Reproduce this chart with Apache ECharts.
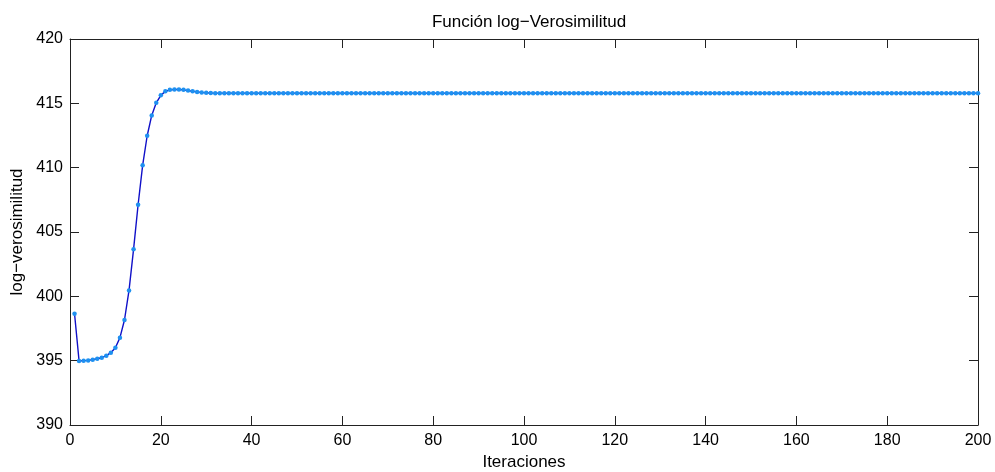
<!DOCTYPE html>
<html>
<head>
<meta charset="utf-8">
<script src="https://cdn.jsdelivr.net/npm/echarts@6/dist/echarts.min.js"></script>
<style>
html,body{margin:0;padding:0;background:#fff;}
#chart{width:995px;height:472px;}
</style>
</head>
<body>
<div id="chart"></div>
<script>
const titleText = 'Función log−Verosimilitud';
const xLabel = 'Iteraciones';
const yLabel = 'log−verosimilitud';

const startValues = [
  398.65, 394.97, 395.00, 395.02, 395.08, 395.15, 395.23, 395.39, 395.62, 396.01,
  396.79, 398.16, 400.46, 403.65, 407.12, 410.18, 412.48, 414.06, 415.04, 415.62,
  415.93, 416.05, 416.08, 416.08, 416.05, 415.99, 415.94, 415.89, 415.85, 415.82,
  415.80
];
const tailValues = [
  415.79, 415.79, 415.78, 415.78, 415.78, 415.78, 415.78, 415.78, 415.78, 415.78,
  415.78, 415.78, 415.78, 415.78, 415.78, 415.78, 415.78, 415.78, 415.78, 415.78,
  415.78, 415.78, 415.78, 415.78, 415.78, 415.78, 415.78, 415.78, 415.78, 415.78,
  415.78, 415.78, 415.78, 415.78, 415.78, 415.78, 415.78, 415.78, 415.78, 415.78,
  415.78, 415.78, 415.78, 415.78, 415.78, 415.78, 415.78, 415.78, 415.78, 415.78,
  415.78, 415.78, 415.78, 415.78, 415.78, 415.78, 415.78, 415.78, 415.78, 415.78,
  415.78, 415.78, 415.78, 415.78, 415.78, 415.78, 415.78, 415.78, 415.78, 415.78,
  415.78, 415.78, 415.78, 415.78, 415.78, 415.78, 415.78, 415.78, 415.78, 415.78,
  415.78, 415.78, 415.78, 415.78, 415.78, 415.78, 415.78, 415.78, 415.78, 415.78,
  415.78, 415.78, 415.78, 415.78, 415.78, 415.78, 415.78, 415.78, 415.78, 415.78,
  415.78, 415.78, 415.78, 415.78, 415.78, 415.78, 415.78, 415.78, 415.78, 415.78,
  415.78, 415.78, 415.78, 415.78, 415.78, 415.78, 415.78, 415.78, 415.78, 415.78,
  415.78, 415.78, 415.78, 415.78, 415.78, 415.78, 415.78, 415.78, 415.78, 415.78,
  415.78, 415.78, 415.78, 415.78, 415.78, 415.78, 415.78, 415.78, 415.78, 415.78,
  415.78, 415.78, 415.78, 415.78, 415.78, 415.78, 415.78, 415.78, 415.78, 415.78,
  415.78, 415.78, 415.78, 415.78, 415.78, 415.78, 415.78, 415.78, 415.78, 415.78,
  415.78, 415.78, 415.78, 415.78, 415.78, 415.78, 415.78, 415.78, 415.78
];
const logLik = startValues.concat(tailValues);
const iterations = logLik.map((v, i) => i + 1);

const xTicks = {min: 0, max: 200, interval: 20};
const yTicks = {min: 390, max: 420, interval: 5};

const FONT = "'Liberation Sans', Arial, Helvetica, sans-serif";
const AX = '#222';

const chart = echarts.init(document.getElementById('chart'), null, {renderer: 'canvas'});
const tickStyle = {show: true, inside: true, length: 9, lineStyle: {color: AX, width: 1}};

chart.setOption({
  animation: false,
  backgroundColor: '#fff',
  title: {
    text: titleText,
    left: 524, top: 9,
    textAlign: 'center',
    textStyle: {fontFamily: FONT, fontSize: 17, fontWeight: 'normal', color: '#000'}
  },
  grid: {left: 70, right: 17, top: 39, bottom: 47, containLabel: false, outerBoundsMode: 'none'},
  xAxis: [
    {
      type: 'value', min: xTicks.min, max: xTicks.max, interval: xTicks.interval,
      position: 'bottom',
      name: xLabel, nameLocation: 'middle', nameGap: 29,
      nameTextStyle: {fontFamily: FONT, fontSize: 17, color: '#000'},
      axisLine: {show: true, onZero: false, lineStyle: {color: AX, width: 1}},
      axisTick: tickStyle,
      axisLabel: {fontFamily: FONT, fontSize: 16, color: '#000', margin: 8},
      splitLine: {show: false}
    },
    {
      type: 'value', min: xTicks.min, max: xTicks.max, interval: xTicks.interval,
      position: 'top',
      axisLine: {show: true, onZero: false, lineStyle: {color: AX, width: 1}},
      axisTick: tickStyle,
      axisLabel: {show: false},
      splitLine: {show: false}
    }
  ],
  yAxis: [
    {
      type: 'value', min: yTicks.min, max: yTicks.max, interval: yTicks.interval,
      position: 'left',
      name: yLabel, nameLocation: 'middle', nameGap: 43, nameRotate: 90,
      nameTextStyle: {fontFamily: FONT, fontSize: 17, color: '#000'},
      axisLine: {show: true, onZero: false, lineStyle: {color: AX, width: 1}},
      axisTick: tickStyle,
      axisLabel: {fontFamily: FONT, fontSize: 16, color: '#000', margin: 7},
      splitLine: {show: false}
    },
    {
      type: 'value', min: yTicks.min, max: yTicks.max, interval: yTicks.interval,
      position: 'right',
      axisLine: {show: true, onZero: false, lineStyle: {color: AX, width: 1}},
      axisTick: tickStyle,
      axisLabel: {show: false},
      splitLine: {show: false}
    }
  ],
  series: [{
    type: 'line',
    xAxisIndex: 0, yAxisIndex: 0,
    data: iterations.map((x, i) => [x, logLik[i]]),
    showSymbol: true,
    showAllSymbol: true,
    symbol: 'circle',
    symbolSize: 4.5,
    itemStyle: {color: '#1e90f0', borderWidth: 0},
    lineStyle: {color: '#1010c8', width: 1.4},
    emphasis: {disabled: true}
  }]
});
</script>
</body>
</html>
